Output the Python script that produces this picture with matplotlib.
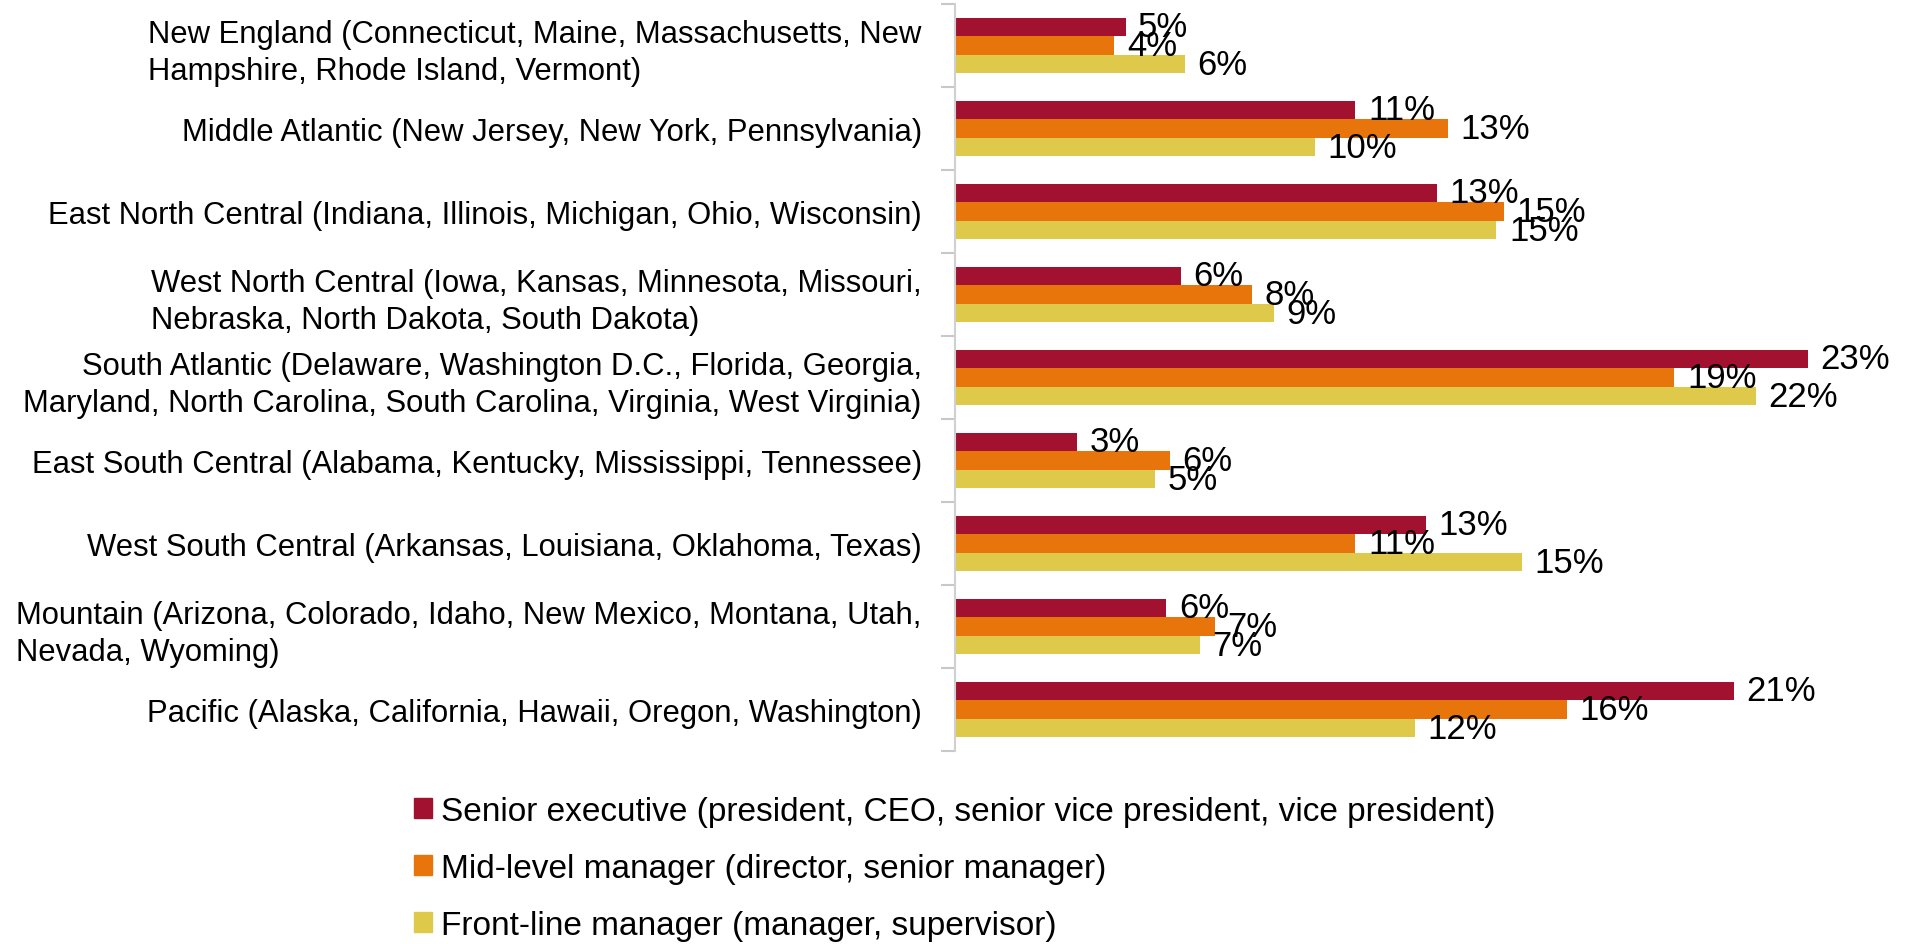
import numpy as np
import matplotlib.pyplot as plt
from matplotlib.patches import Patch

regions = [
    'New England (Connecticut, Maine, Massachusetts, New\nHampshire, Rhode Island, Vermont)',
    'Middle Atlantic (New Jersey, New York, Pennsylvania)',
    'East North Central (Indiana, Illinois, Michigan, Ohio, Wisconsin)',
    'West North Central (Iowa, Kansas, Minnesota, Missouri,\nNebraska, North Dakota, South Dakota)',
    'South Atlantic (Delaware, Washington D.C., Florida, Georgia,\nMaryland, North Carolina, South Carolina, Virginia, West Virginia)',
    'East South Central (Alabama, Kentucky, Mississippi, Tennessee)',
    'West South Central (Arkansas, Louisiana, Oklahoma, Texas)',
    'Mountain (Arizona, Colorado, Idaho, New Mexico, Montana, Utah,\nNevada, Wyoming)',
    'Pacific (Alaska, California, Hawaii, Oregon, Washington)',
]
senior = [4.6, 10.8, 13.0, 6.1, 23.0, 3.3, 12.7, 5.7, 21.0]
mid = [4.3, 13.3, 14.8, 8.0, 19.4, 5.8, 10.8, 7.0, 16.5]
front = [6.2, 9.7, 14.6, 8.6, 21.6, 5.4, 15.3, 6.6, 12.4]
series_names = [
    'Senior executive (president, CEO, senior vice president, vice president)',
    'Mid-level manager (director, senior manager)',
    'Front-line manager (manager, supervisor)',
]
colors = ['#A31131', '#E8740C', '#DFC94B']

plt.rcParams['font.family'] = ['Liberation Sans', 'DejaVu Sans']

W, H = 1908, 945
fig = plt.figure(figsize=(W / 100, H / 100), dpi=100)
# axes box in pixels: left edge at the spine, top/bottom at the outer category ticks
ax = fig.add_axes([955 / W, 1 - 752 / H, (W - 955) / W, 747 / H])

y = np.arange(len(regions))
h = 0.223
for k, (vals, c) in enumerate(zip([senior, mid, front], colors)):
    bars = ax.barh(y + (k - 1) * h, vals, height=h, color=c)
    ax.bar_label(bars, labels=['{:.0f}%'.format(v) for v in vals],
                 padding=9, fontsize=25)

ax.set_ylim(8.5, -0.5)
ax.set_xlim(0, 25.7)
ax.set_yticks(y)
ax.set_yticklabels(regions, fontsize=22.3, multialignment='left', linespacing=1.3)
for lab in ax.get_yticklabels():
    if lab.get_text().startswith('South Atlantic'):
        lab.set_multialignment('right')
ax.tick_params(axis='y', which='major', length=0, pad=24)
ax.set_yticks(np.arange(-0.5, len(regions), 1), minor=True)
ax.tick_params(axis='y', which='minor', length=10, width=1.5, color='#C8C8C8')
ax.xaxis.set_visible(False)
for s in ['top', 'right', 'bottom']:
    ax.spines[s].set_visible(False)
ax.spines['left'].set_color('#D0D0D0')
ax.spines['left'].set_linewidth(1.5)

handles = [Patch(color=c) for c in colors]
fig.legend(handles, series_names, loc='upper left',
           bbox_to_anchor=(414 / W, 1 - 797 / H), frameon=False, fontsize=24,
           handlelength=0.55, handleheight=0.55, handletextpad=0.25,
           labelspacing=0.78, borderaxespad=0, borderpad=0)

fig.savefig('out.png', dpi=100)
